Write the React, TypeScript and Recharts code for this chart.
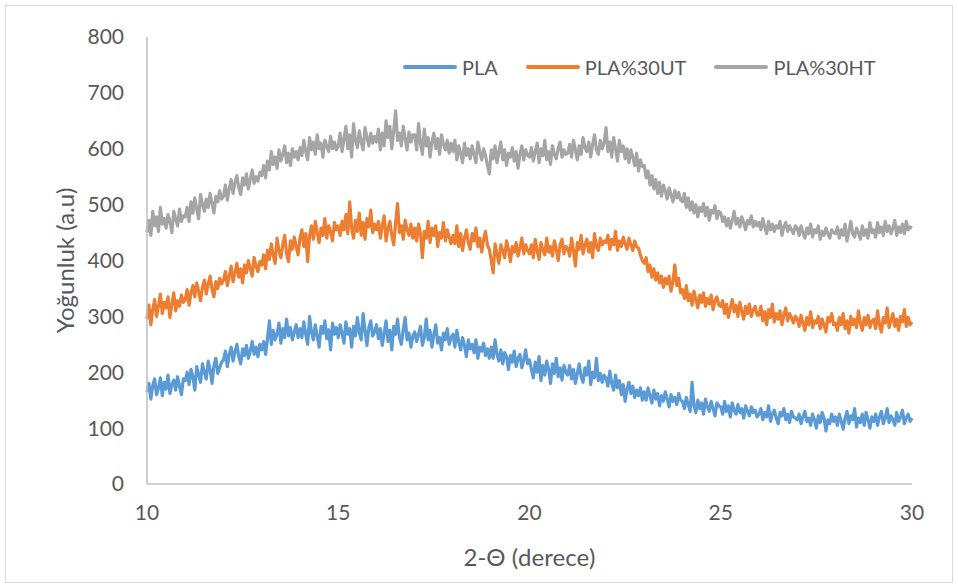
import React from "react";
import { LineChart, Line, XAxis, YAxis, Legend } from "recharts";

const X_START = 10;
const X_STEP = 0.05;

// one row per degree (20 readings each), last value at 30
const PLA = [
  165,180,152,176,188,160,172,190,158,182,170,195,162,178,186,168,192,175,160,188,
  185,200,178,205,192,168,210,196,182,215,200,188,220,205,180,212,225,198,208,218,
  222,238,210,232,245,220,236,250,228,215,242,230,248,225,238,255,232,245,228,250,
  240,255,232,260,292,250,275,258,268,288,252,278,262,295,265,280,258,272,285,262,
  278,262,290,268,250,300,272,258,285,265,245,282,270,292,260,276,240,288,268,280,
  262,285,270,252,290,268,278,245,282,265,298,272,258,305,275,248,280,292,265,272,
  285,260,278,248,270,292,255,275,240,282,268,295,262,250,276,298,258,270,245,265,
  272,255,268,282,248,262,295,258,275,245,268,285,252,262,240,270,258,278,250,262,
  268,245,275,255,240,262,248,228,258,242,250,235,258,225,245,238,252,230,242,225,
  245,225,258,232,220,240,215,235,228,205,230,218,238,210,225,232,208,222,240,215,
  222,205,190,218,200,228,185,212,195,220,205,180,215,198,225,192,208,186,212,200,
  195,212,188,205,180,198,215,192,182,208,195,220,178,200,190,225,185,198,182,195,
  190,175,202,180,168,195,172,185,160,178,148,170,182,162,175,155,168,158,172,150,
  165,150,172,158,145,168,152,162,140,158,148,165,152,138,160,148,155,142,162,150,
  148,135,155,142,130,182,140,128,150,135,145,125,152,138,130,148,135,122,145,140,
  138,125,148,130,140,120,145,132,125,142,128,135,118,140,130,122,138,128,132,120,
  125,135,115,128,120,140,112,125,132,118,108,128,122,135,115,125,110,130,120,118,
  115,125,108,120,130,112,118,105,125,115,100,122,110,128,118,95,115,108,125,112,
  120,105,125,112,98,118,130,108,122,115,135,102,118,110,125,105,128,115,100,120,
  112,125,105,120,130,108,118,135,110,122,115,105,128,112,120,132,108,118,125,112,
  118,
];

const PLA30UT = [
  295,320,285,312,330,300,318,340,305,325,315,335,298,322,342,310,328,318,338,325,
  330,348,320,342,355,335,360,345,328,352,365,340,358,372,348,335,362,350,368,358,
  365,380,355,372,390,362,378,395,370,385,360,392,378,400,385,372,405,390,380,398,
  392,410,385,418,402,430,410,395,440,418,405,428,445,412,398,435,420,442,425,410,
  440,455,425,448,398,445,462,438,470,450,432,458,445,475,440,462,452,435,468,455,
  462,445,470,455,482,448,505,458,440,472,452,485,445,468,438,475,460,490,450,465,
  455,470,440,462,480,435,458,470,445,428,468,502,450,462,438,472,455,445,465,440,
  458,435,465,448,405,452,440,470,432,458,445,462,425,450,440,468,435,455,442,430,
  445,430,462,425,448,418,440,455,432,420,448,435,458,425,440,415,438,452,428,420,
  400,378,430,412,395,428,418,405,435,420,398,425,415,432,408,422,440,412,428,418,
  412,428,405,438,418,402,432,420,410,440,415,425,408,435,420,400,428,438,412,425,
  422,408,440,418,390,432,420,445,412,428,438,415,432,405,448,425,418,440,428,435,
  432,445,420,438,428,452,418,435,425,442,430,420,440,428,418,435,425,422,410,400,
  395,405,380,392,370,385,365,378,360,372,352,368,358,372,345,362,392,355,368,342,
  348,332,355,328,340,320,345,330,315,338,325,342,318,332,322,338,312,328,335,320,
  318,328,305,322,298,315,330,308,320,300,325,310,295,318,305,322,300,312,318,302,
  302,318,292,308,285,312,298,322,290,305,295,310,285,302,315,292,305,298,288,300,
  295,282,302,288,275,298,285,308,280,292,288,300,278,295,285,272,298,290,305,285,
  288,275,298,285,305,278,292,270,300,285,295,280,310,288,275,298,285,302,280,292,
  295,278,310,285,272,298,288,315,280,292,305,282,295,275,300,290,312,282,298,285,
  290,
];

const PLA30HT = [
  450,472,445,488,462,478,452,495,465,475,458,482,470,450,488,475,462,492,470,480,
  478,495,470,505,485,512,492,475,518,500,488,510,495,520,502,485,515,505,525,510,
  515,535,508,528,545,520,540,552,530,518,548,535,555,528,545,562,538,550,542,558,
  552,570,548,578,562,595,572,585,565,598,578,590,605,575,592,570,600,585,595,580,
  602,588,615,595,580,620,598,612,590,625,600,610,585,615,605,595,622,600,612,598,
  605,628,595,618,640,600,625,585,645,615,602,632,612,598,638,620,605,628,610,622,
  612,635,598,628,605,650,620,640,600,632,668,615,628,605,640,618,598,630,612,625,
  625,598,645,610,590,635,605,620,585,612,628,600,618,590,625,608,598,615,592,610,
  595,615,580,605,592,575,610,588,600,582,605,590,575,612,595,580,600,588,570,555,
  598,582,605,575,595,612,580,598,570,592,585,602,578,595,565,590,605,580,598,588,
  585,602,578,595,610,575,600,588,615,580,595,572,605,590,582,600,612,585,598,590,
  592,608,585,615,598,580,605,590,620,602,595,612,585,608,625,598,590,615,600,610,
  638,595,612,585,620,600,578,615,595,605,582,600,575,598,585,570,592,560,580,568,
  570,548,560,535,552,528,545,520,540,515,535,525,510,530,518,505,525,512,522,508,
  505,520,495,512,490,505,485,500,478,495,488,502,480,495,472,490,485,498,475,488,
  485,470,478,462,475,458,472,488,465,475,460,478,468,455,472,465,480,460,470,462,
  468,455,475,460,448,470,455,465,452,462,458,470,445,460,468,452,462,455,448,462,
  458,445,462,450,440,458,448,465,442,455,450,462,438,452,445,458,448,440,455,450,
  448,460,440,455,445,465,435,452,470,448,442,458,450,438,462,445,455,440,468,450,
  455,442,468,450,460,445,470,452,462,448,458,472,445,460,450,465,448,470,455,460,
  458,
];

const X_TICKS = [10, 15, 20, 25, 30];
const Y_TICKS = [0, 100, 200, 300, 400, 500, 600, 700, 800];

const SERIES = [
  { key: "PLA", name: "PLA", color: "#5B9BD5", values: PLA },
  { key: "UT", name: "PLA%30UT", color: "#ED7D31", values: PLA30UT },
  { key: "HT", name: "PLA%30HT", color: "#A5A5A5", values: PLA30HT },
];

const data = PLA.map((_, i) => {
  const row: Record<string, number> = { x: +(X_START + i * X_STEP).toFixed(2) };
  SERIES.forEach((s) => {
    row[s.key] = s.values[i];
  });
  return row;
});

const FONT = "Lato, 'Open Sans', sans-serif";
const TEXT = "#595959";

const renderLegend = () => (
  <div style={{ display: "flex", alignItems: "center", fontFamily: FONT, fontSize: 20, color: TEXT, lineHeight: "24px" }}>
    {SERIES.map((s, i) => (
      <div key={i} style={{ display: "flex", alignItems: "center", marginRight: 28 }}>
        <div style={{ width: 54, height: 4, borderRadius: 2, background: s.color, marginRight: 5 }} />
        <span>{s.name}</span>
      </div>
    ))}
  </div>
);

export default function App() {
  return (
    <div
      style={{
        position: "absolute",
        left: 5,
        top: 5,
        width: 946,
        height: 576,
        border: "1px solid #D9D9D9",
        background: "#fff",
      }}
    >
      <LineChart width={946} height={576} data={data} margin={{ top: 31, right: 40, bottom: 0, left: 0 }}>
        <XAxis
          dataKey="x"
          type="number"
          domain={[10, 30]}
          ticks={X_TICKS}
          tickLine={false}
          tickSize={0}
          tickMargin={21}
          axisLine={{ stroke: "#BFBFBF", strokeWidth: 1.5 }}
          tick={{ fill: TEXT, fontSize: 21, fontFamily: FONT }}
          height={98}
          label={{ value: "2-Θ (derece)", position: "insideBottom", offset: 16, fill: TEXT, fontSize: 24, fontFamily: FONT }}
        />
        <YAxis
          type="number"
          domain={[0, 800]}
          ticks={Y_TICKS}
          tickLine={false}
          tickSize={0}
          tickMargin={23}
          axisLine={{ stroke: "#BFBFBF", strokeWidth: 1.5 }}
          tick={{ fill: TEXT, fontSize: 21, fontFamily: FONT }}
          width={141}
          label={{ value: "Yoğunluk (a.u)", angle: -90, position: "insideLeft", offset: 59, fill: TEXT, fontSize: 24, fontFamily: FONT, style: { textAnchor: "middle" } }}
        />
        <Legend
          verticalAlign="middle"
          align="center"
          layout="horizontal"
          content={renderLegend}
          wrapperStyle={{ top: 49, left: 397, width: 540 }}
        />
        {SERIES.map((s) => (
          <Line
            key={s.key}
            dataKey={s.key}
            name={s.name}
            stroke={s.color}
            strokeWidth={3.2}
            strokeLinejoin="round"
            dot={false}
            activeDot={false}
            isAnimationActive={false}
          />
        ))}
      </LineChart>
    </div>
  );
}
